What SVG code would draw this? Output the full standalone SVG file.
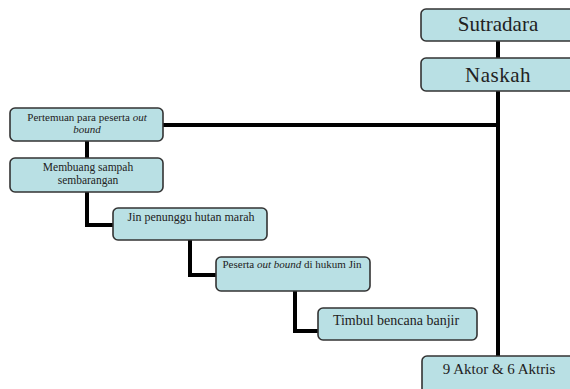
<svg xmlns="http://www.w3.org/2000/svg" width="570" height="389" viewBox="0 0 570 389">
<style>
.box{fill:#b9e0e4;stroke:#333;stroke-width:1.6}
.t{font-family:"Liberation Serif","Times New Roman",serif;fill:#222;text-anchor:middle}
.c{fill:none;stroke:#000;stroke-width:4;stroke-linejoin:miter}
</style>
<rect width="570" height="389" fill="#fff"/>
<g id="connectors">
<path class="c" d="M498 41V58M498 91V356M163 125H498"/>
<path class="c" d="M87 141V158"/>
<path class="c" d="M87 192V225H113"/>
<path class="c" d="M190 240V275H216"/>
<path class="c" d="M295 291V331H318"/>
</g>
<g id="sutradara">
<rect class="box" x="421" y="9" width="160" height="32" rx="5"/>
<text class="t" x="498" y="31" font-size="21">Sutradara</text>
</g>
<g id="naskah">
<rect class="box" x="421" y="58" width="160" height="33" rx="5"/>
<text class="t" x="498" y="82" font-size="21" letter-spacing="0.5">Naskah</text>
</g>
<g id="pertemuan">
<rect class="box" x="10" y="108" width="153" height="33" rx="5"/>
<text class="t" x="87" y="120.5" font-size="11">Pertemuan para peserta <tspan font-style="italic">out</tspan></text>
<text class="t" x="87" y="133" font-size="11" font-style="italic">bound</text>
</g>
<g id="membuang">
<rect class="box" x="10" y="158" width="153" height="34" rx="5"/>
<text class="t" x="88" y="171" font-size="11.5">Membuang sampah</text>
<text class="t" x="88" y="184" font-size="11.5">sembarangan</text>
</g>
<g id="jin">
<rect class="box" x="113" y="208" width="154" height="32" rx="5"/>
<text class="t" x="191" y="221" font-size="12">Jin penunggu hutan marah</text>
</g>
<g id="peserta">
<rect class="box" x="216" y="257" width="154" height="34" rx="5"/>
<text class="t" x="292" y="268" font-size="11">Peserta <tspan font-style="italic">out bound</tspan> di hukum Jin</text>
</g>
<g id="timbul">
<rect class="box" x="318" y="308" width="159" height="32" rx="5"/>
<text class="t" x="396" y="325" font-size="14">Timbul bencana banjir</text>
</g>
<g id="aktor">
<rect class="box" x="422" y="356" width="160" height="40" rx="5"/>
<text class="t" x="499" y="374" font-size="15">9 Aktor &amp; 6 Aktris</text>
</g>
</svg>
